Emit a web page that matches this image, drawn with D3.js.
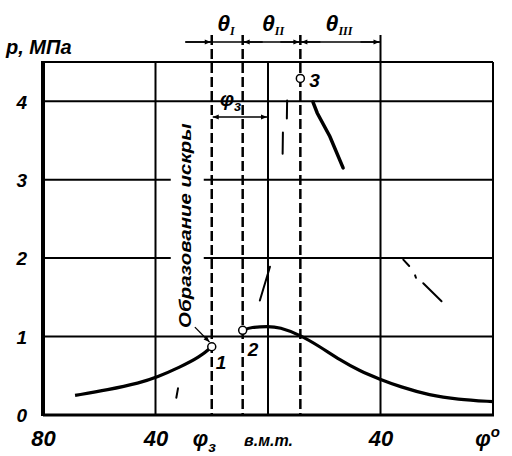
<!DOCTYPE html>
<meta charset="utf-8">
<style>
  body { margin: 0; background: #fff; }
  svg text { font-family: "Liberation Sans", "DejaVu Sans", sans-serif; font-style: italic; font-weight: bold; fill: #000; }
</style>
<svg width="512" height="456"></svg>
<script src="https://d3js.org/d3.v7.min.js"></script>
<script>

// crank angle (deg, minus = before TDC) and pressure, MPa
var compression = [[-68.6, 0.25], [-57, 0.32], [-45.5, 0.41], [-39.5, 0.48], [-31.3, 0.61], [-24.2, 0.74], [-20, 0.87]];
var motoring = [[-9, 1.08], [-6, 1.12], [0, 1.13], [4, 1.12], [11.4, 1.02], [18.5, 0.87], [25.6, 0.7],
                [32.7, 0.56], [39.5, 0.46], [46.9, 0.36], [57.6, 0.25], [67.2, 0.2], [80, 0.17]];
// what is left of the combustion curve in the scan
var burnPieces = [
  [[-2.9, 1.46], [0.7, 1.89]],
  [[5.3, 3.6], [5.2, 3.33]],
  [[6.8, 4.01], [6.7, 3.78]],
  [[16, 3.99], [17.5, 3.85], [22, 3.55], [26.7, 3.15]],
  [[48.1, 1.98], [50.2, 1.9]],
  [[52.3, 1.78], [52.6, 1.75]],
  [[55.2, 1.68], [61.7, 1.45]],
  [[-32, 0.34], [-32.6, 0.22]]
];
var points = [{n: "1", a: -20, p: 0.87}, {n: "2", a: -9, p: 1.08}, {n: "3", a: 11.5, p: 4.29}];
var yTicks = [0, 1, 2, 3, 4];
var xTicks = [-80, -40, -20, 0, 40, 80];
var xTickLabels = ["80", "40", "φз", "в.м.т.", "40", "φ°"];
var gridX = [-40, 0, 40];
var phiZ = -20, phi2 = -9, phi3 = 11.5, phiEnd = 40;

var svg = d3.select("svg");

var x = d3.scaleLinear().domain([-80, 80]).range([43, 493]);
var y = d3.scaleLinear().domain([0, 4.5]).range([415, 62]);

var defs = svg.append("defs");
defs.append("marker").attr("id", "ah")
    .attr("viewBox", "0 0 10 10").attr("refX", 10).attr("refY", 5)
    .attr("markerWidth", 9).attr("markerHeight", 6).attr("markerUnits", "userSpaceOnUse")
    .attr("orient", "auto-start-reverse")
  .append("path").attr("d", "M0,1 L10,5 L0,9 Z").attr("fill", "#000");

// grid
svg.append("g").selectAll("line").data(yTicks.slice(1).concat([4.5]))
  .enter().append("line")
    .attr("x1", x(-80)).attr("x2", x(80))
    .attr("y1", function(d) { return y(d); }).attr("y2", function(d) { return y(d); })
    .attr("stroke", "#000").attr("stroke-width", 2);

svg.append("g").selectAll("line").data(gridX.concat([80]))
  .enter().append("line")
    .attr("x1", function(d) { return x(d); }).attr("x2", function(d) { return x(d); })
    .attr("y1", y(4.5)).attr("y2", y(0))
    .attr("stroke", "#000").attr("stroke-width", 2);

// frame: thick left + bottom
svg.append("line").attr("x1", x(-80)).attr("x2", x(-80)).attr("y1", y(4.5) - 1).attr("y2", y(0) + 1)
    .attr("stroke", "#000").attr("stroke-width", 4);
svg.append("line").attr("x1", x(-80)).attr("x2", x(80) + 1).attr("y1", y(0)).attr("y2", y(0))
    .attr("stroke", "#000").attr("stroke-width", 3);

// dashed phase lines
svg.append("g").selectAll("line").data([phiZ, phi2, phi3])
  .enter().append("line")
    .attr("x1", function(d) { return x(d); }).attr("x2", function(d) { return x(d); })
    .attr("y1", 35).attr("y2", y(0))
    .attr("stroke", "#000").attr("stroke-width", 2.5).attr("stroke-dasharray", "10,4");
svg.append("line").attr("x1", x(phiEnd)).attr("x2", x(phiEnd)).attr("y1", 35).attr("y2", y(4.5))
    .attr("stroke", "#000").attr("stroke-width", 2);

// vertical caption with white backing (breaks the grid lines)
var capX = x(-29.6);
svg.append("rect").attr("x", capX - 14).attr("y", y(3.72)).attr("width", 33).attr("height", y(1.11) - y(3.72))
    .attr("fill", "#fff");
svg.append("text")
    .attr("transform", "translate(" + (capX + 6) + "," + y(1.11) + ") rotate(-90)")
    .attr("font-size", 17).attr("textLength", y(1.11) - y(3.72)).attr("lengthAdjust", "spacingAndGlyphs")
    .text("Образование искры");
svg.append("line").attr("x1", x(-26)).attr("y1", y(1.12)).attr("x2", x(-20.8)).attr("y2", y(0.93))
    .attr("stroke", "#000").attr("stroke-width", 1.3).attr("marker-end", "url(#ah)");

// curves
var line = d3.line().x(function(d) { return x(d[0]); }).y(function(d) { return y(d[1]); })
    .curve(d3.curveBasis);
var lineRaw = d3.line().x(function(d) { return x(d[0]); }).y(function(d) { return y(d[1]); });

svg.append("path").attr("d", line(compression)).attr("fill", "none").attr("stroke", "#000").attr("stroke-width", 3.2);
svg.append("path").attr("d", line(motoring)).attr("fill", "none").attr("stroke", "#000").attr("stroke-width", 3.2);

svg.append("g").selectAll("path").data(burnPieces)
  .enter().append("path")
    .attr("d", lineRaw).attr("fill", "none").attr("stroke", "#000")
    .attr("stroke-linecap", "round")
    .attr("stroke-width", function(d, i) { return i == 3 ? 3.5 : 2; });

svg.append("g").selectAll("circle").data(points)
  .enter().append("circle")
    .attr("cx", function(d) { return x(d.a); }).attr("cy", function(d) { return y(d.p); })
    .attr("r", 4).attr("fill", "#fff").attr("stroke", "#000").attr("stroke-width", 1.5);

var ptOff = {"1": [4, 22], "2": [5, 26], "3": [9, 9]};
svg.append("g").selectAll("text").data(points)
  .enter().append("text")
    .attr("x", function(d) { return x(d.a) + ptOff[d.n][0]; })
    .attr("y", function(d) { return y(d.p) + ptOff[d.n][1]; })
    .attr("font-size", 19).text(function(d) { return d.n; });

// phase brackets on top
function arrow(x1, x2, yy) {
  svg.append("line").attr("x1", x1).attr("x2", x2).attr("y1", yy).attr("y2", yy)
      .attr("stroke", "#000").attr("stroke-width", 1.5).attr("marker-end", "url(#ah)");
}
var by = 42;
svg.append("line").attr("x1", 185).attr("x2", x(phiEnd)).attr("y1", by).attr("y2", by)
    .attr("stroke", "#000").attr("stroke-width", 1.5);
arrow(186, x(phiZ) - 1, by);
arrow(x(phi2) + 20, x(phi2) + 1, by);
arrow(x(phi3) - 20, x(phi3) - 1, by);
arrow(x(phi3) + 20, x(phi3) + 1, by);
arrow(x(phiEnd) - 20, x(phiEnd) - 1, by);

// φз span
var fy = 117;
svg.append("line").attr("x1", x(phiZ) + 1).attr("x2", x(0) - 1).attr("y1", fy).attr("y2", fy)
    .attr("stroke", "#000").attr("stroke-width", 1.5)
    .attr("marker-start", "url(#ah)").attr("marker-end", "url(#ah)");
var fz = svg.append("text").attr("x", 220).attr("y", 106).attr("font-size", 20);
fz.append("tspan").text("φ");
fz.append("tspan").attr("dy", 5).attr("font-size", 14).text("з");

function theta(cx, sub) {
  var t = svg.append("text").attr("x", cx).attr("y", 31).attr("font-size", 23).attr("text-anchor", "middle");
  t.append("tspan").text("θ");
  t.append("tspan").attr("dy", 4).attr("font-size", 12).attr("font-family", "Liberation Serif").text(sub);
}
theta(226, "I");
theta(273, "II");
theta(339, "III");

// axes
var yAxis = svg.append("g").attr("transform", "translate(" + (x(-80) - 13) + ",0)")
    .call(d3.axisLeft(y).tickValues(yTicks).tickSize(0).tickFormat(d3.format("d")));
yAxis.select(".domain").remove();
yAxis.selectAll("text").attr("font-size", 19).attr("font-family", null).attr("dy", "0.36em");

var xAxis = svg.append("g").attr("transform", "translate(0," + (y(0) + 8) + ")")
    .call(d3.axisBottom(x).tickValues(xTicks).tickSize(0)
      .tickFormat(function(d, i) { return xTickLabels[i]; }));
xAxis.select(".domain").remove();
xAxis.selectAll("text").attr("font-size", 22).attr("font-family", null).attr("dy", "0.9em");
xAxis.selectAll("text").filter(function(d) { return d == 0; })
    .attr("font-size", 16).attr("dy", "1.25em");
xAxis.selectAll("text").filter(function(d) { return d == -20; })
    .attr("dx", -8).text(null)
    .call(function(t) {
      t.append("tspan").text("φ");
      t.append("tspan").attr("dy", 6).attr("font-size", 15).text("з");
    });
xAxis.selectAll("text").filter(function(d) { return d == 80; })
    .attr("dx", -6).text(null)
    .call(function(t) {
      t.append("tspan").text("φ");
      t.append("tspan").attr("dy", -9).attr("font-size", 15).text("o");
    });

svg.append("text").attr("x", 6).attr("y", 54).attr("font-size", 20).text("p, МПа");

</script>
